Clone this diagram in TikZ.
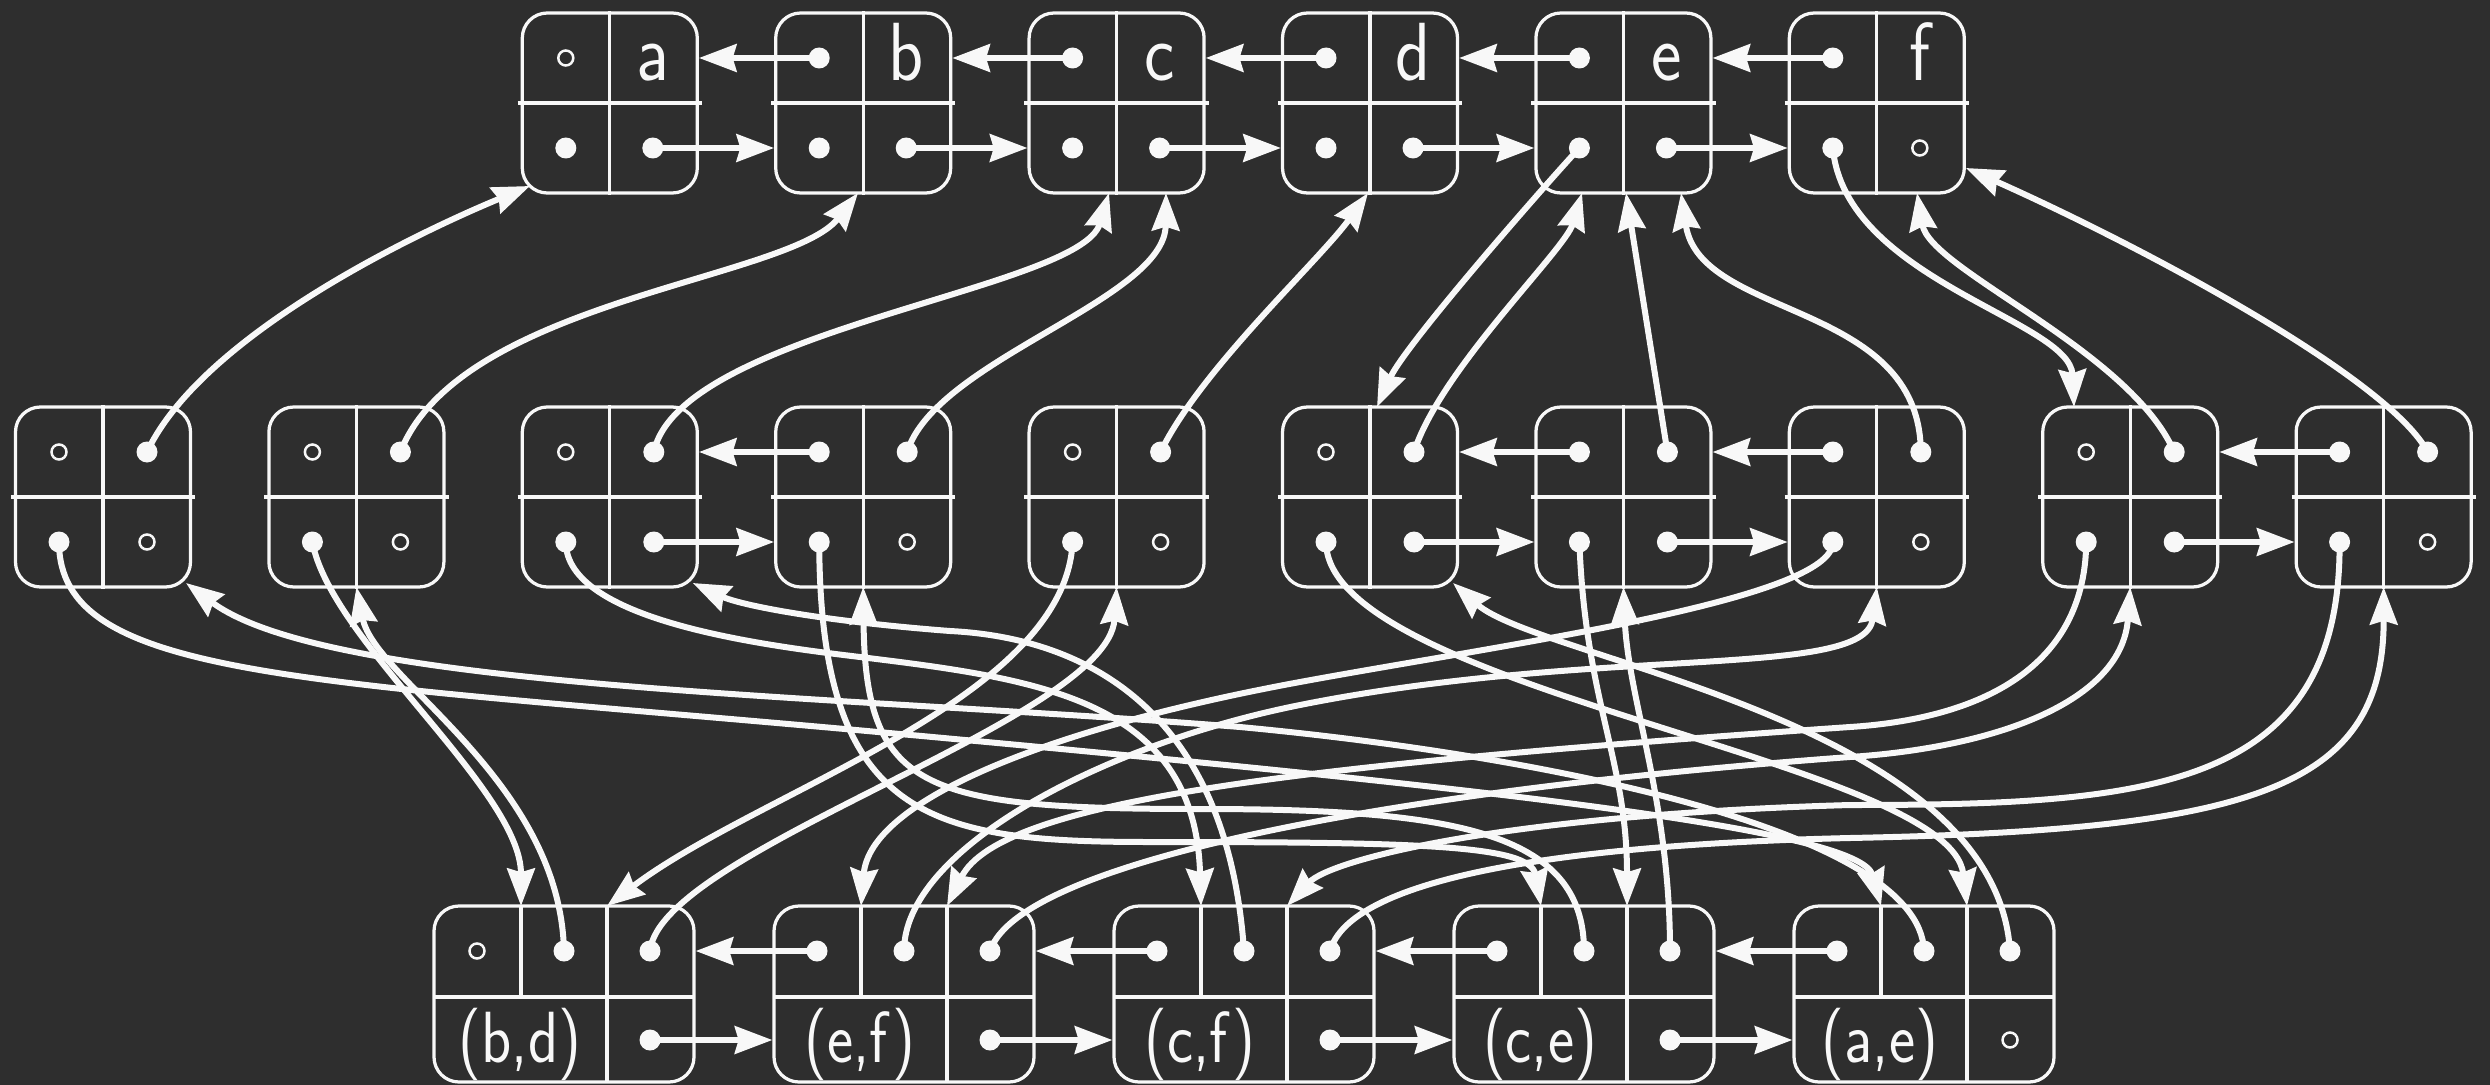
\documentclass[tikz,border=0pt]{standalone}
\usepackage{fontspec}
\usepackage{graphicx}
\usetikzlibrary{arrows.meta,calc}
\definecolor{board}{RGB}{46,46,46}
\definecolor{chalk}{RGB}{248,248,248}
\tikzset{
  cell/.style={draw=chalk, line width=1.3pt, rounded corners=10pt, minimum width=70pt, minimum height=72pt, inner sep=0pt},
  edgecell/.style={draw=chalk, line width=1.3pt, rounded corners=10pt, minimum width=104pt, minimum height=70.4pt, inner sep=0pt},
  divl/.style={draw=chalk, line width=1.3pt},
  conn/.style={draw=chalk, line width=2.4pt, -{Stealth[length=15pt,width=11pt,inset=1.5pt]}},
  toplbl/.style={text=chalk, font=\fontsize{33}{35}\selectfont\sffamily, inner sep=0pt, anchor=base},
  botlbl/.style={text=chalk, font=\fontsize{29}{31}\selectfont\sffamily, inner sep=0pt, anchor=base},
  fdot/.style={fill=chalk},
  odot/.style={draw=chalk, line width=1pt},
}
\newcommand\filldot[1]{\fill[fdot] (#1) circle[radius=10.5];}
\newcommand\opendot[1]{\draw[odot] (#1) circle[radius=7.5];}
\newcommand\narrow[2]{\scalebox{#1}[1]{#2}}
\begin{document}
\begin{tikzpicture}[x=0.4pt,y=-0.4pt]
\fill[board] (0,0) rectangle (2490,1085);
\useasboundingbox (0,0) rectangle (2490,1085);

% ---------- vertex list (top row)
\foreach \n [count=\i from 0] in {a,b,c,d,e,f} {
  \pgfmathsetmacro\xc{609.8+253.4*\i}
  \node[cell] (\n) at (\xc,103) {};
  \draw[divl] (\n.north) -- (\n.south);
  \draw[divl] ([xshift=-1.2pt]\n.west) -- ([xshift=1.2pt]\n.east);
  \coordinate (\n-UL) at (\xc-44,58);
  \coordinate (\n-LL) at (\xc-44,148);
  \coordinate (\n-LR) at (\xc+43,148);
  \node[toplbl] (\n-lab) at (\xc+43,81) {\narrow{0.88}{\n}};
}

% ---------- incidence nodes (middle row)
\foreach \i in {1,...,10} {
  \pgfmathsetmacro\xc{103+253.4*(\i-1)}
  \node[cell] (n\i) at (\xc,497) {};
  \draw[divl] (n\i.north) -- (n\i.south);
  \draw[divl] ([xshift=-1.2pt]n\i.west) -- ([xshift=1.2pt]n\i.east);
  \coordinate (n\i-UL) at (\xc-44,452);
  \coordinate (n\i-UR) at (\xc+44,452);
  \coordinate (n\i-LL) at (\xc-44,542);
  \coordinate (n\i-LR) at (\xc+44,542);
  \coordinate (n\i-S) at (\xc,587);
  \coordinate (n\i-SE) at (\xc+83,583);
}

% ---------- edge list (bottom row)
\foreach \n/\l [count=\i from 0] in {bd/{(b,d)},ef/{(e,f)},cf/{(c,f)},ce/{(c,e)},ae/{(a,e)}} {
  \pgfmathsetmacro\L{434+340*\i}
  \node[edgecell] (\n) at (\L+130,994) {};
  \draw[divl] (\L,997) -- (\L+260,997);
  \draw[divl] (\L+87,906) -- (\L+87,997);
  \draw[divl] (\L+173,906) -- (\L+173,1082);
  \node[botlbl] (\n-lab) at (\L+86,1062) {\narrow{0.86}{\l}};
  \coordinate (\n-d1) at (\L+87,906);
  \coordinate (\n-d2) at (\L+173,906);
  \coordinate (\n-UL) at (\L+43,951);
  \coordinate (\n-UM) at (\L+130,951);
  \coordinate (\n-UR) at (\L+216,951);
  \coordinate (\n-LR) at (\L+216,1040);
}

% ---------- arrow targets
\coordinate (a-t) at (530,186);
\coordinate (b-t) at (858,193);
\coordinate (c-t1) at (1109,193);
\coordinate (c-t2) at (1166,193);
\coordinate (d-t) at (1368,193);
\coordinate (e-t1) at (1582,193);
\coordinate (e-t2) at (1626,193);
\coordinate (e-t3) at (1681,193);
\coordinate (f-t1) at (1917,193);
\coordinate (f-t2) at (1966,168);
\coordinate (n6-N) at (1377,407);
\coordinate (n9-N) at (2074,407);

% ---------- horizontal list links
\foreach \u/\v in {a/b,b/c,c/d,d/e,e/f,n3/n4,n6/n7,n7/n8,n9/n10,bd/ef,ef/cf,cf/ce,ce/ae} {
  \draw[conn] (\u-LR) -- (\u-LR -| \v.west);
  \draw[conn] (\v-UL) -- (\v-UL -| \u.east);
}

% ---------- middle <-> top
\draw[conn] (n1-UR) .. controls (200,340) and (400,240) .. (a-t);
\draw[conn] (n2-UR) .. controls (460,300) and (790,280) .. (b-t);
\draw[conn] (n3-UR) .. controls (680,330) and (1080,290) .. (c-t1);
\draw[conn] (n4-UR) .. controls (935,360) and (1165,300) .. (c-t2);
\draw[conn] (n5-UR) .. controls (1200,370) and (1320,260) .. (d-t);
\draw[conn] (e-LL) .. controls (1545,185) and (1405,345) .. (n6-N);
\draw[conn] (n6-UR) .. controls (1440,370) and (1565,250) .. (e-t1);
\draw[conn] (n7-UR) -- (e-t2);
\draw[conn] (n8-UR) .. controls (1920,300) and (1700,320) .. (e-t3);
\draw[conn] (f-LL) .. controls (1845,280) and (2070,320) .. (n9-N);
\draw[conn] (n9-UR) .. controls (2130,350) and (1930,270) .. (f-t1);
\draw[conn] (n10-UR) .. controls (2390,380) and (2150,250) .. (f-t2);

% ---------- middle -> bottom
\draw[conn] (n1-LL) .. controls (59,680) and (300,679) .. (900,734) .. controls (1500,789) and (1860,830) .. (ae-d1);
\draw[conn] (n2-LL) .. controls (330,640) and (521,790) .. (bd-d1);
\draw[conn] (n3-LL) .. controls (566,620) and (760,645) .. (860,657) .. controls (1040,679) and (1195,700) .. (cf-d1);
\draw[conn] (n4-LL) .. controls (820,820) and (930,842) .. (1150,842) .. controls (1420,842) and (1530,845) .. (ce-d1);
\draw[conn] (n5-LL) .. controls (1065,700) and (760,790) .. (bd-d2);
\draw[conn] (n6-LL) .. controls (1327,690) and (1950,760) .. (ae-d2);
\draw[conn] (n7-LL) .. controls (1585,700) and (1627,760) .. (ce-d2);
\draw[conn] (n8-LL) .. controls (1834,600) and (1500,645) .. (1300,682) .. controls (1050,728) and (870,800) .. (ef-d1);
\draw[conn] (n9-LL) .. controls (2085,680) and (1960,720) .. (1850,727) .. controls (1300,765) and (1000,800) .. (ef-d2);
\draw[conn] (n10-LL) .. controls (2341,790) and (2150,805) .. (1850,805) .. controls (1500,815) and (1330,860) .. (cf-d2);

% ---------- bottom -> middle
\draw[conn] (bd-UM) .. controls (560,780) and (375,680) .. (n2-S);
\draw[conn] (bd-UR) .. controls (660,850) and (1108,720) .. (n5-S);
\draw[conn] (ef-UM) .. controls (904,850) and (1100,745) .. (1300,705) .. controls (1600,645) and (1865,680) .. (n8-S);
\draw[conn] (ef-UR) .. controls (1020,860) and (1400,790) .. (1850,757) .. controls (2000,747) and (2122,700) .. (n9-S);
\draw[conn] (cf-UM) .. controls (1225,680) and (1050,636) .. (950,631) .. controls (820,621) and (740,605) .. (n3-SE);
\draw[conn] (cf-UR) .. controls (1350,880) and (1550,845) .. (1850,838) .. controls (2250,830) and (2384,790) .. (n10-S);
\draw[conn] (ce-UM) .. controls (1584,830) and (1450,809) .. (1200,809) .. controls (920,809) and (865,790) .. (n4-S);
\draw[conn] (ce-UR) .. controls (1670,800) and (1628,700) .. (n7-S);
\draw[conn] (ae-UM) .. controls (1920,830) and (1540,755) .. (1240,727) .. controls (840,695) and (330,690) .. (n1-SE);
\draw[conn] (ae-UR) .. controls (1995,720) and (1540,660) .. (n6-SE);

% ---------- pointer dots
\foreach \p in {b-UL,c-UL,d-UL,e-UL,f-UL,a-LL,b-LL,c-LL,d-LL,e-LL,f-LL,a-LR,b-LR,c-LR,d-LR,e-LR,
  n1-UR,n2-UR,n3-UR,n4-UR,n5-UR,n6-UR,n7-UR,n8-UR,n9-UR,n10-UR,
  n1-LL,n2-LL,n3-LL,n4-LL,n5-LL,n6-LL,n7-LL,n8-LL,n9-LL,n10-LL,
  n4-UL,n7-UL,n8-UL,n10-UL,n3-LR,n6-LR,n7-LR,n9-LR,
  bd-UM,ef-UM,cf-UM,ce-UM,ae-UM,bd-UR,ef-UR,cf-UR,ce-UR,ae-UR,
  ef-UL,cf-UL,ce-UL,ae-UL,bd-LR,ef-LR,cf-LR,ce-LR} {\filldot{\p}}
\foreach \p in {a-UL,f-LR,n1-UL,n1-LR,n2-UL,n2-LR,n3-UL,n4-LR,n5-UL,n5-LR,n6-UL,n8-LR,n9-UL,n10-LR,bd-UL,ae-LR} {\opendot{\p}}
\end{tikzpicture}
\end{document}
